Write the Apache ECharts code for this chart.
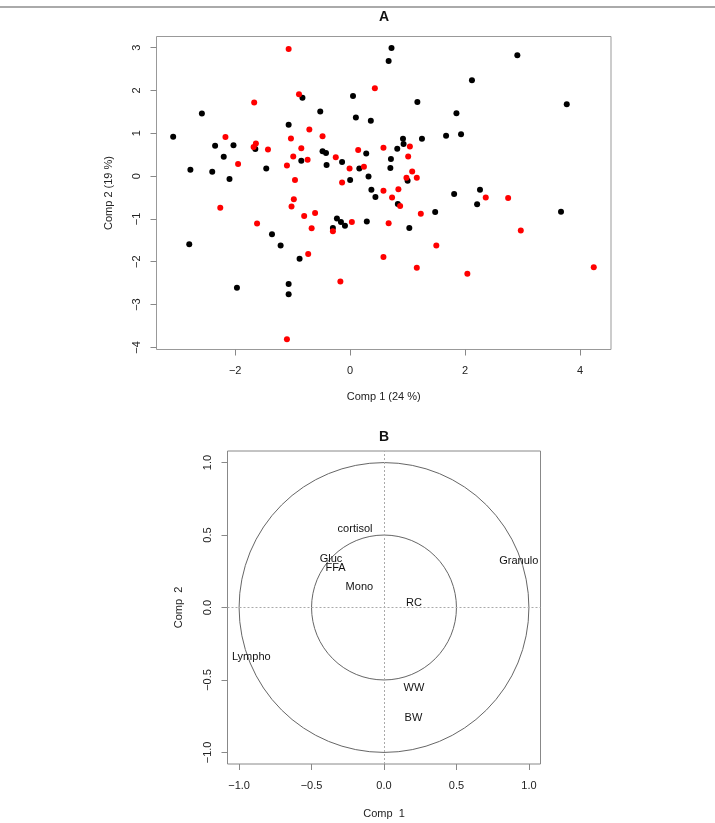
<!DOCTYPE html>
<html><head><meta charset="utf-8">
<script src="https://cdn.jsdelivr.net/npm/echarts@6/dist/echarts.min.js"></script>
<style>html,body{margin:0;padding:0;background:#fff}#c{width:715px;height:823px}</style>
</head><body><div id="c"></div>
<script>
// ---- Panel A data (Comp 1, Comp 2 scores) ----
const blackPoints = [
  [-2.58,1.46],[-1.07,1.20],[-3.08,0.92],[-2.35,0.71],[-2.03,0.72],[-1.65,0.63],[-2.20,0.45],
  [-0.85,0.36],[-2.78,0.15],[-2.40,0.10],[-1.46,0.18],[-2.10,-0.07],[0.72,2.99],[0.67,2.69],
  [-0.83,1.83],[0.05,1.87],[1.17,1.73],[-0.52,1.51],[0.10,1.37],[0.36,1.29],[0.92,0.87],
  [1.25,0.87],[1.67,0.94],[0.93,0.75],[0.82,0.64],[-0.48,0.58],[-0.42,0.54],[0.28,0.53],
  [-0.14,0.33],[0.71,0.40],[-0.41,0.26],[0.16,0.18],[0.70,0.19],[1.00,-0.11],[0.32,-0.01],
  [0.00,-0.09],[0.37,-0.32],[0.44,-0.49],[0.83,-0.65],[-0.23,-0.99],[-0.16,-1.07],[-0.09,-1.16],
  [-0.30,-1.21],[0.29,-1.06],[1.03,-1.21],[1.48,-0.84],[-0.88,-1.93],[-1.36,-1.36],[-1.21,-1.62],
  [-2.80,-1.59],[-1.97,-2.61],[-1.07,-2.52],[-1.07,-2.76],[2.91,2.82],[2.12,2.24],[3.77,1.68],
  [1.85,1.47],[1.93,0.98],[1.81,-0.42],[2.26,-0.32],[2.21,-0.66],[3.67,-0.83]
];
const redPoints = [
  [-1.07,2.97],[-0.89,1.91],[-1.67,1.72],[-2.17,0.91],[-1.03,0.88],[-1.64,0.76],[-1.68,0.68],
  [-1.43,0.62],[-0.85,0.65],[-0.99,0.46],[-1.95,0.28],[-1.10,0.25],[-0.96,-0.09],[0.43,2.05],
  [-0.71,1.09],[-0.48,0.93],[1.04,0.69],[0.58,0.66],[0.14,0.61],[1.01,0.46],[-0.25,0.44],
  [-0.74,0.38],[-0.01,0.18],[0.24,0.22],[1.08,0.11],[0.98,-0.04],[1.16,-0.04],[-0.14,-0.15],
  [0.58,-0.34],[0.84,-0.31],[0.73,-0.50],[0.87,-0.70],[-0.80,-0.93],[-0.61,-0.86],[-0.67,-1.22],
  [-0.30,-1.29],[0.03,-1.07],[0.67,-1.10],[1.23,-0.88],[1.50,-1.62],[-0.73,-1.82],[0.58,-1.89],
  [1.16,-2.14],[-0.17,-2.46],[-0.98,-0.54],[-1.02,-0.71],[-2.26,-0.74],[-1.62,-1.11],[-1.10,-3.81],
  [2.36,-0.50],[2.75,-0.51],[2.97,-1.27],[2.04,-2.28],[4.24,-2.13]
];
const xTicksA = [-2, 0, 2, 4];
const yTicksA = [-4, -3, -2, -1, 0, 1, 2, 3];
const xRangeA = [-3.37, 4.54];
const yRangeA = [-4.05, 3.26];

// ---- Panel B data (correlation circle) ----
const varNames = ['cortisol', 'Gluc', 'FFA', 'Mono', 'RC', 'Granulo', 'Lympho', 'WW', 'BW'];
const varX = [-0.20, -0.366, -0.334, -0.17, 0.207, 0.93, -0.916, 0.207, 0.203];
const varY = [0.544, 0.337, 0.272, 0.145, 0.030, 0.318, -0.339, -0.557, -0.765];
const circleRadii = [1, 0.5];
const ticksB = [-1, -0.5, 0, 0.5, 1];
const rangeB = [-1.08, 1.08];

const FONT = "'Liberation Sans', Arial, Helvetica, sans-serif";
const minus = s => String(s).replace('-', '\u2212');
const fmtA = v => minus(v);
const fmtB = v => minus(Number(v).toFixed(1));

function xAxisCfg(grid, range, ticks, fmt, name, gap) {
  return {
    type: 'value', gridIndex: grid, min: range[0], max: range[1], position: 'bottom',
    splitLine: { show: false }, axisLine: { show: false, onZero: false },
    axisTick: { show: true, inside: false, length: 6, customValues: ticks, lineStyle: { color: '#888' } },
    axisLabel: { customValues: ticks, formatter: fmt, margin: 16, color: '#222', fontSize: 11, fontFamily: FONT },
    name: name, nameLocation: 'middle', nameGap: gap,
    nameTextStyle: { color: '#222', fontSize: 11, fontFamily: FONT }
  };
}
function yAxisCfg(grid, range, ticks, fmt, name, gap) {
  return {
    type: 'value', gridIndex: grid, min: range[0], max: range[1], position: 'left',
    splitLine: { show: false }, axisLine: { show: false, onZero: false },
    axisTick: { show: true, inside: false, length: 6, customValues: ticks, lineStyle: { color: '#888' } },
    axisLabel: { customValues: ticks, formatter: fmt, margin: 14, rotate: 90, color: '#222', fontSize: 11, fontFamily: FONT },
    name: name, nameLocation: 'middle', nameGap: gap, nameRotate: 90,
    nameTextStyle: { color: '#222', fontSize: 11, fontFamily: FONT }
  };
}

const chart = echarts.init(document.getElementById('c'), null, { renderer: 'canvas' });
chart.setOption({
  animation: false,
  backgroundColor: '#fff',
  title: [
    { text: 'A', left: 384, top: 10, textAlign: 'center', padding: 0,
      textStyle: { fontSize: 14, fontWeight: 'bold', color: '#111', fontFamily: FONT } },
    { text: 'B', left: 384, top: 430, textAlign: 'center', padding: 0,
      textStyle: { fontSize: 14, fontWeight: 'bold', color: '#111', fontFamily: FONT } }
  ],
  graphic: [
    { type: 'line', shape: { x1: 0, y1: 7, x2: 715, y2: 7 }, style: { stroke: '#aaa', lineWidth: 2 } }
  ],
  grid: [
    { left: 156.5, top: 36.5, width: 454.5, height: 313, show: true, borderColor: '#999', borderWidth: 1, backgroundColor: 'transparent' },
    { left: 227.5, top: 451, width: 313, height: 313, show: true, borderColor: '#888', borderWidth: 1, backgroundColor: 'transparent' }
  ],
  xAxis: [
    xAxisCfg(0, xRangeA, xTicksA, fmtA, 'Comp 1 (24 %)', 42),
    xAxisCfg(1, rangeB, ticksB, fmtB, 'Comp  1', 44)
  ],
  yAxis: [
    yAxisCfg(0, yRangeA, yTicksA, fmtA, 'Comp 2 (19 %)', 42),
    yAxisCfg(1, rangeB, ticksB, fmtB, 'Comp  2', 43)
  ],
  series: [
    { type: 'scatter', xAxisIndex: 0, yAxisIndex: 0, data: blackPoints, symbolSize: 6,
      itemStyle: { color: '#000', opacity: 1 } },
    { type: 'scatter', xAxisIndex: 0, yAxisIndex: 0, data: redPoints, symbolSize: 6,
      itemStyle: { color: '#f00', opacity: 1 } },
    { type: 'scatter', xAxisIndex: 1, yAxisIndex: 1, data: [], silent: true,
      markLine: { silent: true, symbol: ['none', 'none'], label: { show: false },
        lineStyle: { type: [2, 2], color: '#aaa', width: 1 },
        data: [{ xAxis: 0 }, { yAxis: 0 }] } },
    { type: 'custom', xAxisIndex: 1, yAxisIndex: 1, silent: true,
      data: circleRadii.map(r => [0, 0, r]),
      renderItem: function (params, api) {
        const c = api.coord([api.value(0), api.value(1)]);
        const s = api.size([api.value(2), api.value(2)]);
        return { type: 'circle', shape: { cx: c[0], cy: c[1], r: (s[0] + s[1]) / 2 },
          style: { fill: 'none', stroke: '#666', lineWidth: 1 } };
      } },
    { type: 'custom', xAxisIndex: 1, yAxisIndex: 1, silent: true,
      data: varNames.map((n, i) => [varX[i], varY[i], n]),
      renderItem: function (params, api) {
        const c = api.coord([api.value(0), api.value(1)]);
        return { type: 'text', x: c[0], y: c[1],
          style: { text: varNames[params.dataIndex], fill: '#111', font: '11px ' + FONT,
            align: 'center', verticalAlign: 'middle' } };
      } }
  ]
});
</script></body></html>
